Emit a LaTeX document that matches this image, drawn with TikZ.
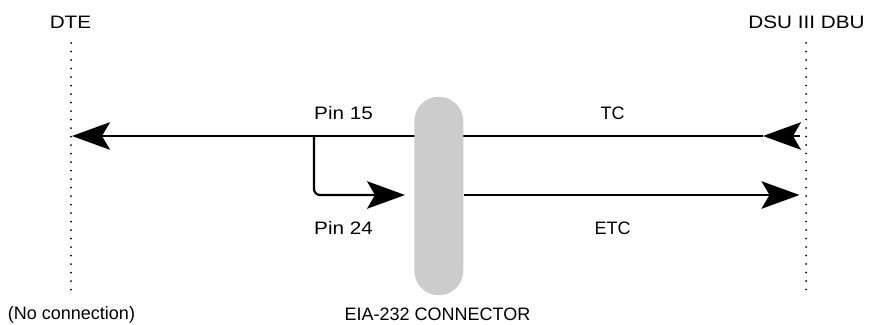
\documentclass[tikz,border=0pt]{standalone}
\usepackage{fontspec}
\setmainfont{Liberation Sans}
\newfontfamily\widesans[FakeStretch=1.15]{Liberation Sans}
\usetikzlibrary{arrows.meta}
\tikzset{
  lbl/.style={font=\fontsize{18}{21}\selectfont, inner sep=0pt},
  wlbl/.style={font=\widesans\fontsize{18}{21}\selectfont, inner sep=0pt},
  wire/.style={line width=2.2pt, black},
  tipb/.style={-{Stealth[length=38pt, width=27.5pt, inset=8pt]}},
  dotline/.style={line width=2pt, line cap=round, dash pattern=on 0pt off 8.5pt},
  capsule/.style={fill=black!20, draw=none, rounded corners=24.5pt, minimum width=49pt, minimum height=198.5pt, inner sep=0pt}
}
\begin{document}
\begin{tikzpicture}[x=1pt,y=-1pt]
\useasboundingbox (0,0) rectangle (869,324);
% labels
\node[wlbl] (dte) at (70.5,22.3) {DTE};
\node[wlbl] (dsu) at (806.5,22.3) {DSU III DBU};
\node[lbl] (nocon) at (71.5,314.5) {(No connection)};
\node[lbl] (eia) at (437.5,314.5) {EIA-232 CONNECTOR};
\node[wlbl, anchor=west] (pin15) at (314,113.3) {Pin 15};
\node[wlbl, anchor=west] (pin24) at (314,228) {Pin 24};
\node[lbl] (tc) at (612.5,113.5) {TC};
\node[lbl] (etc) at (612.5,228) {ETC};
% dotted boundaries
\coordinate (lt) at (71,43);
\coordinate (lb) at (71,297.5);
\coordinate (rt) at (806,43);
\coordinate (rb) at (806,297.5);
\draw[dotline] (lt) -- (lb);
\draw[dotline] (rt) -- (rb);
% connector geometry
\coordinate (tcR) at (799.5,136);
\coordinate (tcTip) at (763,136);
\coordinate (dteTip) at (72,136);
\coordinate (branch) at (314,136);
\coordinate (etcTip) at (405,195);
\coordinate (etcR) at (799.5,195);
% wires
\draw[wire, tipb] (tcR) -- (tcTip);
\draw[wire, tipb] (tcTip) -- (dteTip);
\draw[wire, tipb, rounded corners=6pt] (branch) |- (etcTip);
% capsule
\node[capsule] (conn) at (438.8,196) {};
\draw[wire, tipb] (conn.east |- etcR) -- (etcR);
\end{tikzpicture}
\end{document}
